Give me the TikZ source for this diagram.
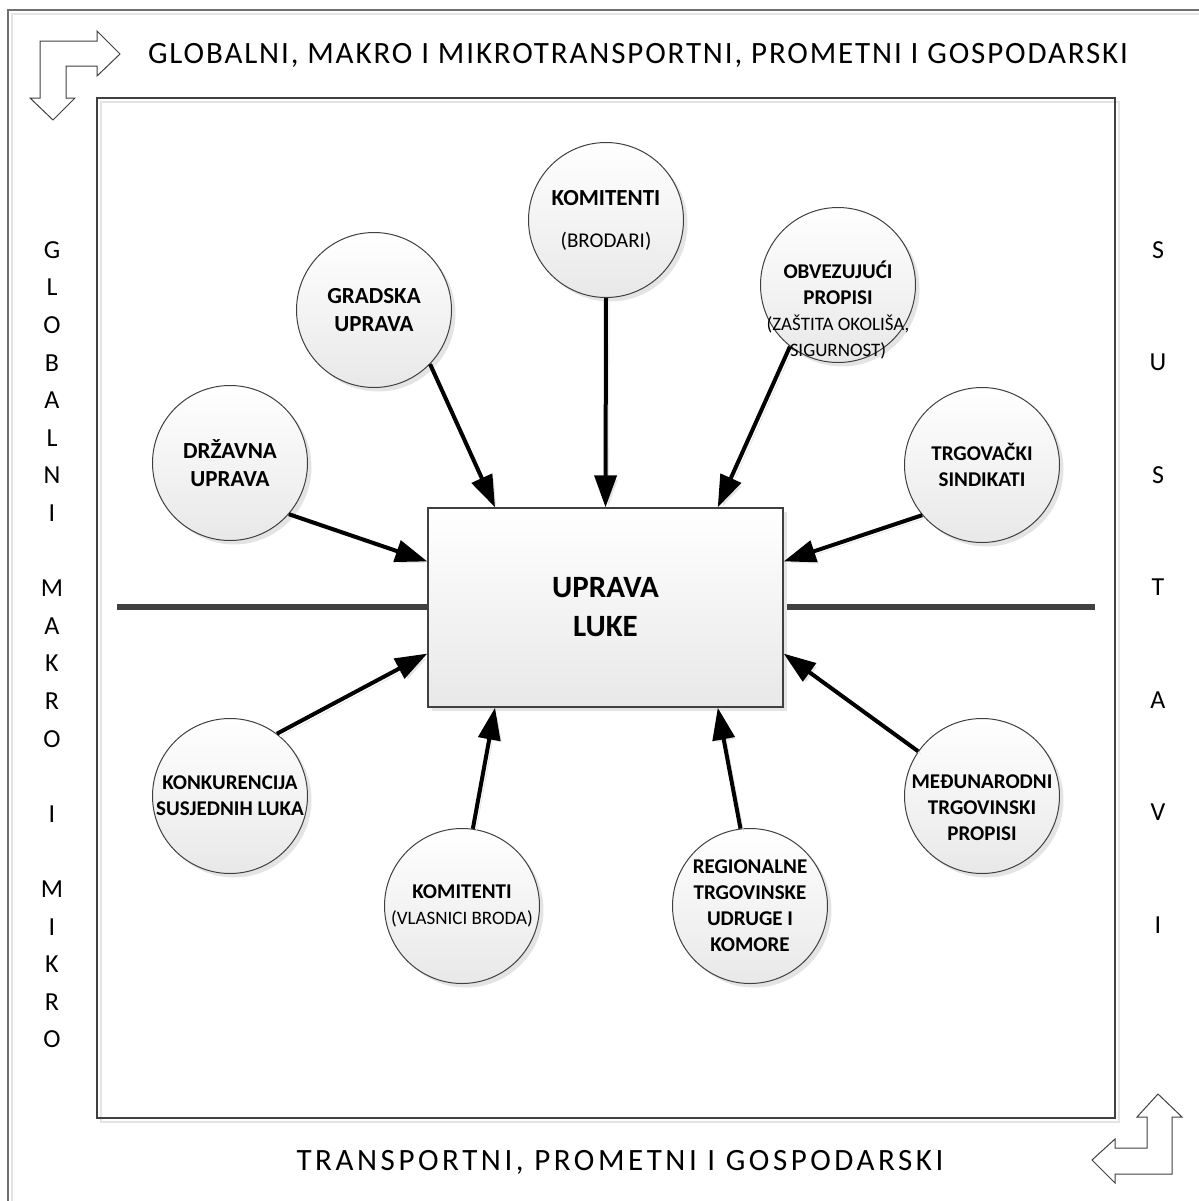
\documentclass[tikz,border=0pt]{standalone}
\usepackage{fontspec}
\setmainfont{Carlito}
\usepackage{tikz}
\usetikzlibrary{arrows.meta, calc, shadows}
\definecolor{edgeGray}{HTML}{404040}
\definecolor{frameGray}{HTML}{707070}
\definecolor{shadeGray}{HTML}{E4E4E4}
\definecolor{fillGray}{HTML}{E8E8E8}
\newcommand{\subtext}{\mdseries\fontsize{9.5}{12}\selectfont}

\begin{document}
\begin{tikzpicture}[x=0.5pt, y=-0.5pt,
  actor/.style={circle, draw=edgeGray, line width=0.5pt, minimum size=77.5pt, inner sep=-20pt,
    align=center, top color=white, bottom color=fillGray,
    drop shadow={shadow xshift=2pt, shadow yshift=-2pt, fill=shadeGray, opacity=1},
    font=\bfseries\fontsize{10.5}{13}\selectfont},
  bigactor/.style={actor, font=\bfseries\fontsize{11.5}{14}\selectfont},
  hub/.style={rectangle, draw=edgeGray, line width=0.7pt, minimum width=177.5pt, minimum height=99.5pt,
    align=center, top color=white, bottom color=fillGray,
    drop shadow={shadow xshift=2pt, shadow yshift=-2pt, fill=shadeGray, opacity=1},
    font=\bfseries\fontsize{15.5}{19.5}\selectfont},
  influence/.style={line width=2pt, -{Triangle[length=16pt, width=11pt]},
    preaction={draw=shadeGray, transform canvas={xshift=1.5pt, yshift=-1.5pt}}},
  axis/.style={line width=3pt, edgeGray},
  bentarrow/.style={draw=edgeGray, line width=0.5pt, fill=white, line join=miter},
  headline/.style={anchor=base, inner sep=0pt, font=\fontsize{15.5}{18}\selectfont\addfontfeature{LetterSpace=6}},
  letter/.style={inner sep=0pt, font=\fontsize{13}{15}\selectfont}]

  \clip (0,0) rectangle (1199,1201);

  % frames
  \draw[shadeGray, line width=1pt] (12,14) rectangle (1240,1240);
  \draw[frameGray, line width=1pt] (8,10) rectangle (1240,1240);
  \draw[shadeGray, line width=1pt] (101,102) rectangle (1119,1122);
  \draw[edgeGray, line width=0.8pt] (97,98) rectangle (1115,1118);

  % corner arrows
  \draw[bentarrow] (40,41) -- (97,41) -- (97,31) -- (120,54) -- (97,76) -- (97,66) -- (66,66)
    -- (66,98) -- (75,98) -- (53,120) -- (30,98) -- (40,98) -- cycle;
  \draw[bentarrow] (1158,1094) -- (1182,1117) -- (1172,1117) -- (1172,1174) -- (1115,1174) -- (1115,1183)
    -- (1092,1160) -- (1115,1139) -- (1115,1148) -- (1147,1148) -- (1147,1117) -- (1137,1117) -- cycle;

  % titles
  \node[headline] (titleTop) at (638,63) {GLOBALNI, MAKRO I MIKROTRANSPORTNI, PROMETNI I GOSPODARSKI};
  \node[headline, font=\fontsize{15.5}{18}\selectfont\addfontfeature{LetterSpace=11.5}] (titleBottom) at (620,1170)
    {TRANSPORTNI, PROMETNI I GOSPODARSKI};
  \foreach \ch/\row in {G/0,L/1,O/2,B/3,A/4,L/5,N/6,I/7,M/9,A/10,K/11,R/12,O/13,I/15,M/17,I/18,K/19,R/20,O/21}
    \node[letter] (west\row) at (52,250+37.6*\row) {\ch};
  \foreach \ch [count=\k from 0] in {S,U,S,T,A,V,I}
    \node[letter] (east\k) at (1158,250+112.5*\k) {\ch};

  % axis behind the hub
  \coordinate (axisW) at (117,607);
  \coordinate (axisE) at (1095,607);
  \draw[axis] (axisW) -- (axisE);

  \node[hub] (luka) at (605.5,607.5) {UPRAVA\\LUKE};

  % surrounding actors
  \node[bigactor] (drzavna) at (230,463) {DRŽAVNA\\UPRAVA};
  \node[bigactor] (gradska) at (374,310) {GRADSKA\\UPRAVA};
  \node[bigactor] (brodari) at (606,220)
    {KOMITENTI\\[7pt]{\mdseries\fontsize{10.5}{12}\selectfont (BRODARI)}};
  \node[actor] (propisi) at (838,285)
    {\rule{0pt}{34pt}OBVEZUJUĆI\\PROPISI\\{\subtext (ZAŠTITA OKOLIŠA,}\\{\subtext SIGURNOST)}};
  \node[actor] (sindikati) at (982,465) {TRGOVAČKI\\SINDIKATI};
  \node[actor] (konkurencija) at (230,796) {KONKURENCIJA\\SUSJEDNIH LUKA};
  \node[actor] (vlasnici) at (462,906) {KOMITENTI\\{\subtext (VLASNICI BRODA)}};
  \node[actor] (udruge) at (750,906) {REGIONALNE\\TRGOVINSKE\\UDRUGE I\\KOMORE};
  \node[actor] (medunarodni) at (982,796) {\rule{0pt}{19pt}MEĐUNARODNI\\TRGOVINSKI\\PROPISI};

  % arrow ends on the hub
  \coordinate (lukaN1) at ($(luka.north west)!0.19!(luka.north east)$);
  \coordinate (lukaN2) at ($(luka.north west)!0.5!(luka.north east)$);
  \coordinate (lukaN3) at ($(luka.north west)!0.815!(luka.north east)$);
  \coordinate (lukaS1) at ($(luka.south west)!0.19!(luka.south east)$);
  \coordinate (lukaS2) at ($(luka.south west)!0.815!(luka.south east)$);
  \coordinate (lukaW1) at ($(luka.north west)!0.27!(luka.south west)$);
  \coordinate (lukaW2) at ($(luka.north west)!0.73!(luka.south west)$);
  \coordinate (lukaE1) at ($(luka.north east)!0.27!(luka.south east)$);
  \coordinate (lukaE2) at ($(luka.north east)!0.73!(luka.south east)$);

  \foreach \src/\dst in {drzavna.-41/lukaW1, gradska.-44/lukaN1, brodari.south/lukaN2,
      propisi.-128/lukaN3, sindikati.-140/lukaE1, konkurencija.53/lukaW2,
      vlasnici.82/lukaS1, udruge.97/lukaS2, medunarodni.145/lukaE2}
    \draw[influence] (\src) -- (\dst);

\end{tikzpicture}
\end{document}
